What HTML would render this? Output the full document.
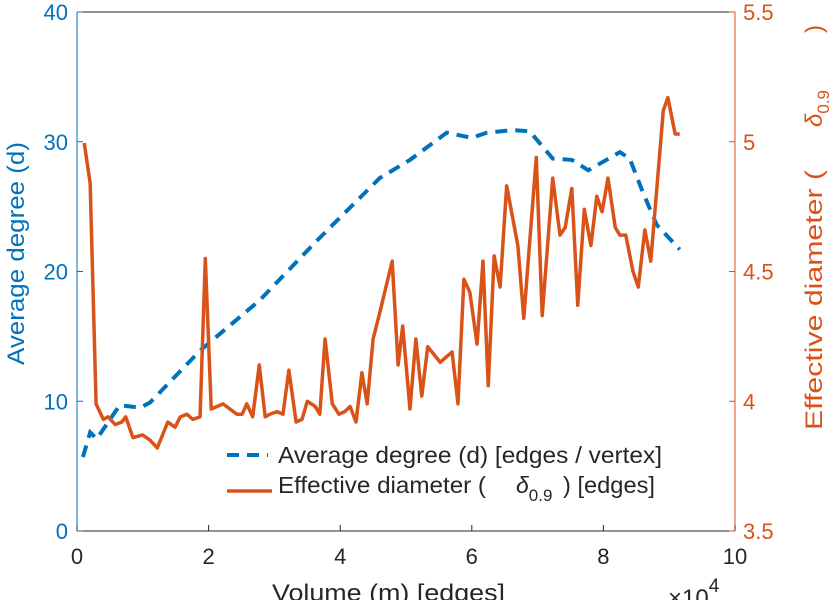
<!DOCTYPE html>
<html><head><meta charset="utf-8"><style>
body{margin:0;background:#fff;}
svg{display:block;font-family:"Liberation Sans",sans-serif;}
</style></head><body>
<svg id="chart" width="838" height="600">
<rect x="0" y="0" width="838" height="600" fill="#fff"/>
<g id="plot"></g>
</svg>
<script>
const volume = [0.09,0.20,0.30,0.65,0.96,1.11,1.87,2.78,3.65,4.60,5.06,5.62,6.00,6.23,6.63,6.88,7.23,7.52,7.77,8.25,8.40,8.60,8.81,9.16];
const avgDegree = [5.7,7.6,7.1,9.7,9.5,9.9,13.9,17.8,22.4,27.2,28.6,30.7,30.3,30.7,30.9,30.8,28.7,28.6,27.8,29.2,28.7,26.1,23.6,21.7];
const diamVolume = [0.11,0.20,0.29,0.40,0.47,0.58,0.68,0.74,0.85,1.00,1.11,1.22,1.38,1.49,1.57,1.67,1.76,1.87,1.95,2.04,2.22,2.43,2.51,2.58,2.67,2.77,2.86,2.93,3.04,3.13,3.22,3.33,3.42,3.50,3.62,3.69,3.77,3.88,3.98,4.07,4.15,4.24,4.33,4.41,4.50,4.60,4.79,4.88,4.95,5.06,5.15,5.24,5.33,5.52,5.70,5.79,5.88,5.97,6.08,6.17,6.25,6.34,6.43,6.53,6.70,6.79,6.98,7.07,7.23,7.34,7.42,7.52,7.61,7.71,7.81,7.90,7.98,8.07,8.18,8.25,8.34,8.45,8.53,8.63,8.72,8.91,8.98,9.09,9.16];
const effDiameter = [4.995,4.84,3.99,3.93,3.94,3.91,3.92,3.94,3.86,3.87,3.85,3.82,3.92,3.90,3.94,3.95,3.93,3.94,4.55,3.97,3.99,3.95,3.95,3.99,3.94,4.14,3.94,3.95,3.96,3.95,4.12,3.92,3.93,4.00,3.98,3.95,4.24,3.99,3.95,3.96,3.98,3.92,4.11,3.99,4.24,4.34,4.54,4.14,4.29,3.97,4.24,4.02,4.21,4.15,4.19,3.99,4.47,4.42,4.22,4.54,4.06,4.56,4.44,4.83,4.60,4.32,4.94,4.33,4.86,4.64,4.67,4.82,4.37,4.74,4.60,4.79,4.73,4.86,4.67,4.64,4.64,4.50,4.44,4.66,4.54,5.12,5.17,5.03,5.03];
const xTicks = [0,2,4,6,8,10];
const yLeftTicks = [0,10,20,30,40];
const yRightTicks = [3.5,4,4.5,5,5.5];

const L=77,R=735,T=12,B=531;
const X=v=>L+(v-0)/10*(R-L);
const YL=v=>B-(v/40)*(B-T);
const YR=v=>B-((v-3.5)/2)*(B-T);
const NS="http://www.w3.org/2000/svg";
const g=document.getElementById('plot');
function mk(tag,attrs,parent){const e=document.createElementNS(NS,tag);for(const k in attrs)e.setAttribute(k,attrs[k]);(parent||g).appendChild(e);return e;}
const BLUE="#0072BD",ORANGE="#D95319",GRAY="#262626";

let e;
e=mk('line',{x1:L,y1:T,x2:R,y2:T,stroke:"#262626","stroke-width":1});


e=mk('line',{x1:L,y1:B,x2:R,y2:B,stroke:GRAY,"stroke-width":1});


e=mk('line',{x1:L,y1:T,x2:L,y2:B,stroke:BLUE,"stroke-width":1});


e=mk('line',{x1:R,y1:T,x2:R,y2:B,stroke:ORANGE,"stroke-width":1});



xTicks.forEach(v=>{
  const x=X(v);
  let t=mk('line',{x1:x,y1:B,x2:x,y2:B-6,stroke:GRAY});
  
  
  let l=mk('text',{x:x,y:B+33,"text-anchor":"middle","font-size":22,fill:GRAY});
  l.textContent=v;
  
  
});
yLeftTicks.forEach(v=>{
  const y=YL(v);
  let t=mk('line',{x1:L,y1:y,x2:L+6,y2:y,stroke:BLUE});
  
  
  let l=mk('text',{x:L-9,y:y+8,"text-anchor":"end","font-size":22,fill:BLUE});
  l.textContent=v;
  
  
});
yRightTicks.forEach(v=>{
  const y=YR(v);
  let t=mk('line',{x1:R,y1:y,x2:R-6,y2:y,stroke:ORANGE});
  
  
  let l=mk('text',{x:R+8,y:y+8,"text-anchor":"start","font-size":22,fill:ORANGE});
  l.textContent=v;
  
  
});

let p=mk('polyline',{points:volume.map((v,i)=>X(v)+","+YL(avgDegree[i])).join(" "),fill:"none",stroke:BLUE,"stroke-width":4,"stroke-dasharray":"12,8"});


p=mk('polyline',{points:diamVolume.map((v,i)=>X(v)+","+YR(effDiameter[i])).join(" "),fill:"none",stroke:ORANGE,"stroke-width":3.5,"stroke-linejoin":"round"});



// titles
let tt=mk('text',{x:272,y:601,"font-size":24,fill:GRAY,textLength:233,lengthAdjust:"spacingAndGlyphs"});
tt.textContent="Volume (m) [edges]";


tt=mk('text',{x:668,y:606,"font-size":24,fill:GRAY});
tt.innerHTML='×10<tspan dy="-14" font-size="19">4</tspan>';


tt=mk('text',{x:0,y:0,"font-size":24,fill:BLUE,textLength:223,lengthAdjust:"spacingAndGlyphs",transform:"translate(24,365) rotate(-90)"});
tt.textContent="Average degree (d)";


tt=mk('text',{x:0,y:0,"font-size":24,fill:ORANGE,transform:"translate(822,430) rotate(-90)"});
tt.innerHTML='<tspan textLength="260" lengthAdjust="spacingAndGlyphs">Effective diameter (</tspan><tspan x="303" font-style="italic">δ</tspan><tspan dy="7" font-size="17">0.9</tspan><tspan dy="-7" x="397">)</tspan>';



// legend
const lg=mk('g',{});


let ll=mk('line',{x1:227,y1:455,x2:268,y2:455,stroke:BLUE,"stroke-width":4,"stroke-dasharray":"12,8"},lg);


let lt=mk('text',{x:278,y:463,"font-size":23,fill:GRAY,textLength:384,lengthAdjust:"spacingAndGlyphs"},lg);
lt.textContent="Average degree (d) [edges / vertex]";


ll=mk('line',{x1:227,y1:491,x2:272,y2:491,stroke:ORANGE,"stroke-width":3.5},lg);


lt=mk('text',{x:278,y:493,"font-size":23,fill:GRAY},lg);
lt.innerHTML='<tspan textLength="208" lengthAdjust="spacingAndGlyphs">Effective diameter (</tspan><tspan x="516" font-style="italic">δ</tspan><tspan dy="8" font-size="17">0.9</tspan><tspan dy="-8" x="563" textLength="92" lengthAdjust="spacingAndGlyphs">) [edges]</tspan>';


</script>
</body></html>
